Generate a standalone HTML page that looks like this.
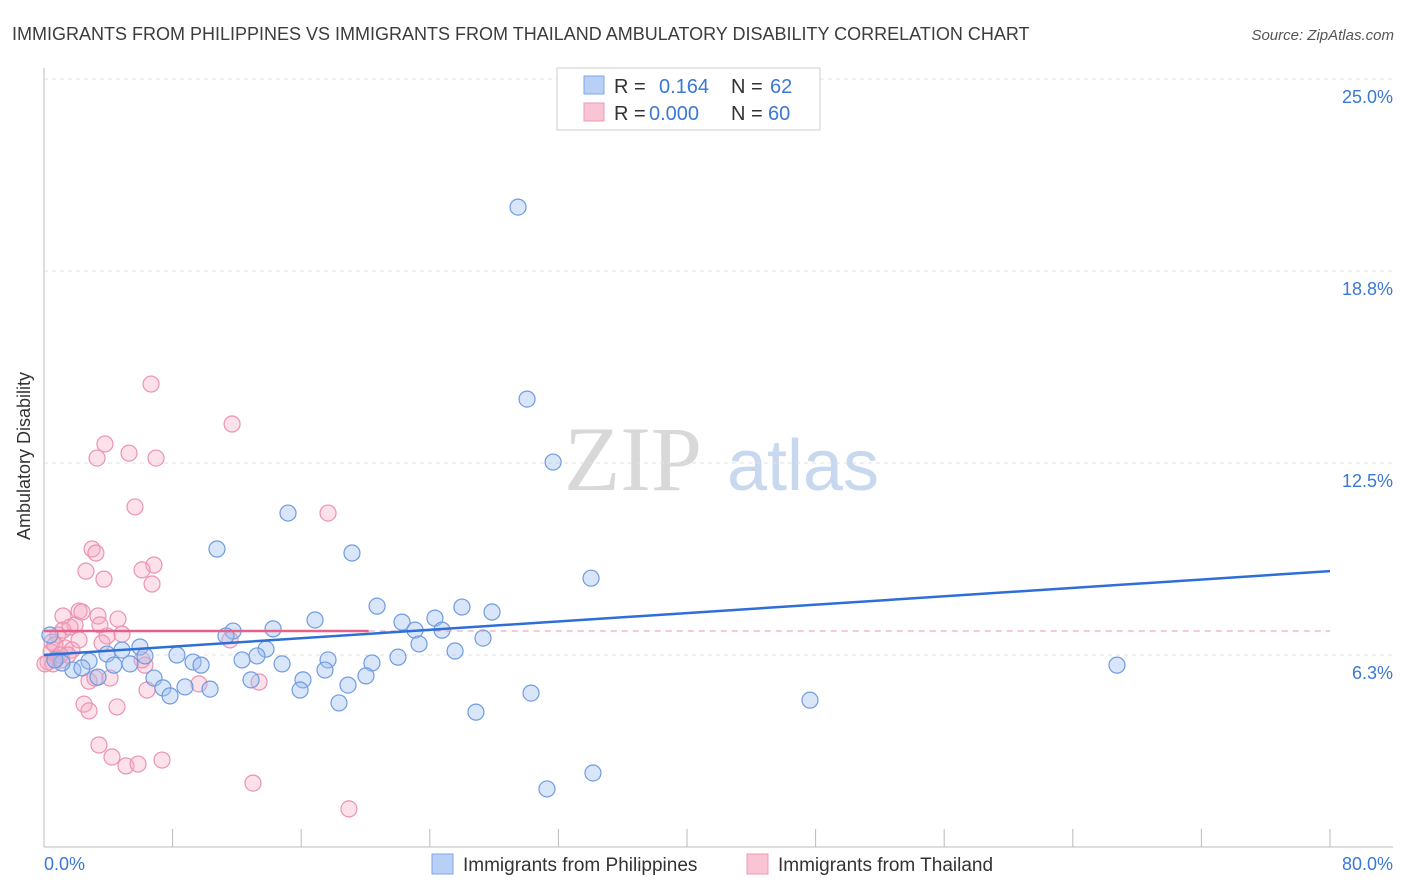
<!DOCTYPE html>
<html><head><meta charset="utf-8"><style>
body{margin:0;background:#fff;font-family:"Liberation Sans",sans-serif;}
svg{display:block}
</style></head><body>
<svg id="chart" width="1406" height="892" xmlns="http://www.w3.org/2000/svg">
<text x="12" y="40" font-size="18" fill="#3c3c3c">IMMIGRANTS FROM PHILIPPINES VS IMMIGRANTS FROM THAILAND AMBULATORY DISABILITY CORRELATION CHART</text>
<text x="1394" y="40" font-size="15" fill="#555" font-style="italic" text-anchor="end">Source: ZipAtlas.com</text>
<text x="30" y="456" font-size="18" fill="#333" text-anchor="middle" transform="rotate(-90 30 456)">Ambulatory Disability</text>
<g><text x="633" y="490" font-size="92" font-family="Liberation Serif,serif" fill="#d8d8d8" text-anchor="middle">ZIP</text><text x="803" y="490" font-size="72" fill="#c8d8ef" text-anchor="middle">atlas</text></g>
<g id="grid"></g><g id="axes"></g><g id="marks"></g>
<g>
<rect x="557" y="68" width="263" height="62" fill="#fff" stroke="#ccc"/>
<rect x="584" y="76" width="20" height="18" fill="#b8d0f5" stroke="#7fa6e6"/>
<rect x="584" y="103" width="20" height="18" fill="#f9c4d4" stroke="#ee9ab4"/>
<text x="614" y="93" font-size="20" fill="#333">R = </text><text x="659" y="93" font-size="20" fill="#3a78d4">0.164</text>
<text x="731" y="93" font-size="20" fill="#333">N = </text><text x="770" y="93" font-size="20" fill="#3a78d4">62</text>
<text x="614" y="120" font-size="20" fill="#333">R = </text><text x="649" y="120" font-size="20" fill="#3a78d4">0.000</text>
<text x="731" y="120" font-size="20" fill="#333">N = </text><text x="768" y="120" font-size="20" fill="#3a78d4">60</text>
</g>
<g>
<rect x="432" y="854" width="21" height="20" fill="#b8d0f5" stroke="#7fa6e6"/>
<text x="463" y="871" font-size="19" fill="#333">Immigrants from Philippines</text>
<rect x="747" y="854" width="21" height="20" fill="#f9c4d4" stroke="#ee9ab4"/>
<text x="778" y="871" font-size="19" fill="#333">Immigrants from Thailand</text>
</g>
</svg>
<script>
const yTicks=[6.25,12.5,18.75,25];
const yTickLabels=["6.3%","12.5%","18.8%","25.0%"];
const xTickCount=10;
const xEndLabels=["0.0%","80.0%"];
const phX=[29.49,30.05,31.67,15.18,10.76,19.16,34.03,20.72,26.00,27.87,24.32,22.27,16.86,23.08,24.76,14.25,11.76,11.32,23.33,27.31,25.57,13.81,5.97,4.85,3.92,6.28,8.27,9.27,9.77,12.32,13.25,14.81,17.67,20.40,22.02,17.48,20.03,16.11,12.88,6.84,3.36,4.35,2.80,1.80,1.12,0.68,0.37,15.93,18.91,8.77,7.40,7.84,10.33,18.35,30.30,26.87,47.65,66.75,34.15,31.29,5.35,2.36];
const phY=[20.83,14.58,12.53,10.87,9.70,9.57,8.75,7.84,7.81,7.65,7.45,7.32,7.39,7.06,7.06,7.10,7.03,6.87,6.61,6.80,6.38,6.44,6.51,6.41,6.28,6.22,6.25,6.02,5.92,6.09,6.22,5.96,6.09,5.99,6.18,5.76,5.57,5.44,5.44,5.50,5.53,5.92,6.05,5.76,5.99,6.09,6.90,5.11,5.27,5.21,5.18,4.92,5.14,4.69,5.01,4.39,4.78,5.92,2.41,1.89,5.96,5.83];
const thX=[6.66,11.70,3.79,3.30,5.29,6.97,5.66,17.67,2.99,3.23,6.84,6.10,2.61,3.73,6.72,2.18,1.18,2.36,4.60,3.36,1.93,1.18,4.85,3.92,2.18,0.87,0.50,1.31,1.74,3.61,0.44,0.81,0.25,1.12,1.49,6.28,0.56,2.80,3.17,4.11,6.41,9.64,13.38,11.57,6.10,2.49,2.80,4.54,3.42,4.23,5.10,5.85,7.34,13.00,18.97,0.06,0.68,1.62,3.48,1.00];
const thY=[15.07,13.77,13.12,12.66,12.82,12.66,11.07,10.87,9.70,9.57,9.18,9.02,8.98,8.72,8.56,7.68,7.52,7.65,7.42,7.52,7.23,7.06,6.93,6.87,6.74,6.90,6.67,6.48,6.41,6.64,6.35,6.15,6.02,6.09,6.25,5.92,5.96,5.40,5.50,5.50,5.11,5.31,5.37,6.74,6.09,4.65,4.43,4.56,3.32,2.93,2.64,2.70,2.83,2.08,1.24,5.96,6.58,7.16,7.23,6.25];
const phTrend=[6.25,8.98];
const thTrend=[7.03,7.03];
const thTrendEnd=20.2;

const X0=44,X1=1330,Y0=847,PXY=30.72;
const sx=v=>X0+(v/80)*(X1-X0);
const sy=v=>Y0-v*PXY;
const NS="http://www.w3.org/2000/svg";
function mk(tag,attrs,parent){const e=document.createElementNS(NS,tag);for(const k in attrs)e.setAttribute(k,attrs[k]);parent.appendChild(e);return e;}
const grid=document.getElementById('grid'),axes=document.getElementById('axes'),marks=document.getElementById('marks');
yTicks.forEach((t,i)=>{
 const l=mk('line',{x1:44,x2:1393,y1:sy(t),y2:sy(t),stroke:'#e2e2e2','stroke-dasharray':'4,4'},grid);
 
 
 const tx=mk('text',{x:1393,y:sy(t)+24,'font-size':18,fill:'#3a78d4','text-anchor':'end'},axes);
 tx.textContent=yTickLabels[i];
 
 
});
const yl=mk('line',{x1:44,x2:44,y1:68,y2:847,stroke:'#bbb'},axes);


const xl=mk('line',{x1:44,x2:1393,y1:847,y2:847,stroke:'#bbb'},axes);


for(let i=0;i<=xTickCount;i++){
 const tk=mk('line',{x1:sx(i*8),x2:sx(i*8),y1:829,y2:847,stroke:'#bbb'},axes);
 
 
}
const xa=mk('text',{x:44,y:870,'font-size':18,fill:'#3a78d4'},axes);xa.textContent=xEndLabels[0];


const xb=mk('text',{x:1393,y:870,'font-size':18,fill:'#3a78d4','text-anchor':'end'},axes);xb.textContent=xEndLabels[1];


thX.forEach((v,i)=>{
 const c=mk('circle',{cx:sx(v),cy:sy(thY[i]),r:8,fill:'rgba(246,170,196,0.35)',stroke:'#eb93b1','stroke-width':1.2},marks);
 
 
});
phX.forEach((v,i)=>{
 const c=mk('circle',{cx:sx(v),cy:sy(phY[i]),r:8,fill:'rgba(160,192,240,0.4)',stroke:'#6f9be0','stroke-width':1.2},marks);
 
 
});
const td=mk('line',{x1:sx(thTrendEnd),x2:sx(80),y1:sy(thTrend[1]),y2:sy(thTrend[1]),stroke:'#eb93b1','stroke-dasharray':'6,5','stroke-width':1},marks);


const t2=mk('line',{x1:sx(0),x2:sx(thTrendEnd),y1:sy(thTrend[0]),y2:sy(thTrend[1]),stroke:'#e5608a','stroke-width':2.5},marks);


const t1=mk('line',{x1:sx(0),x2:sx(80),y1:sy(phTrend[0]),y2:sy(phTrend[1]),stroke:'#2d6fd6','stroke-width':2.5},marks);


</script>
</body></html>
